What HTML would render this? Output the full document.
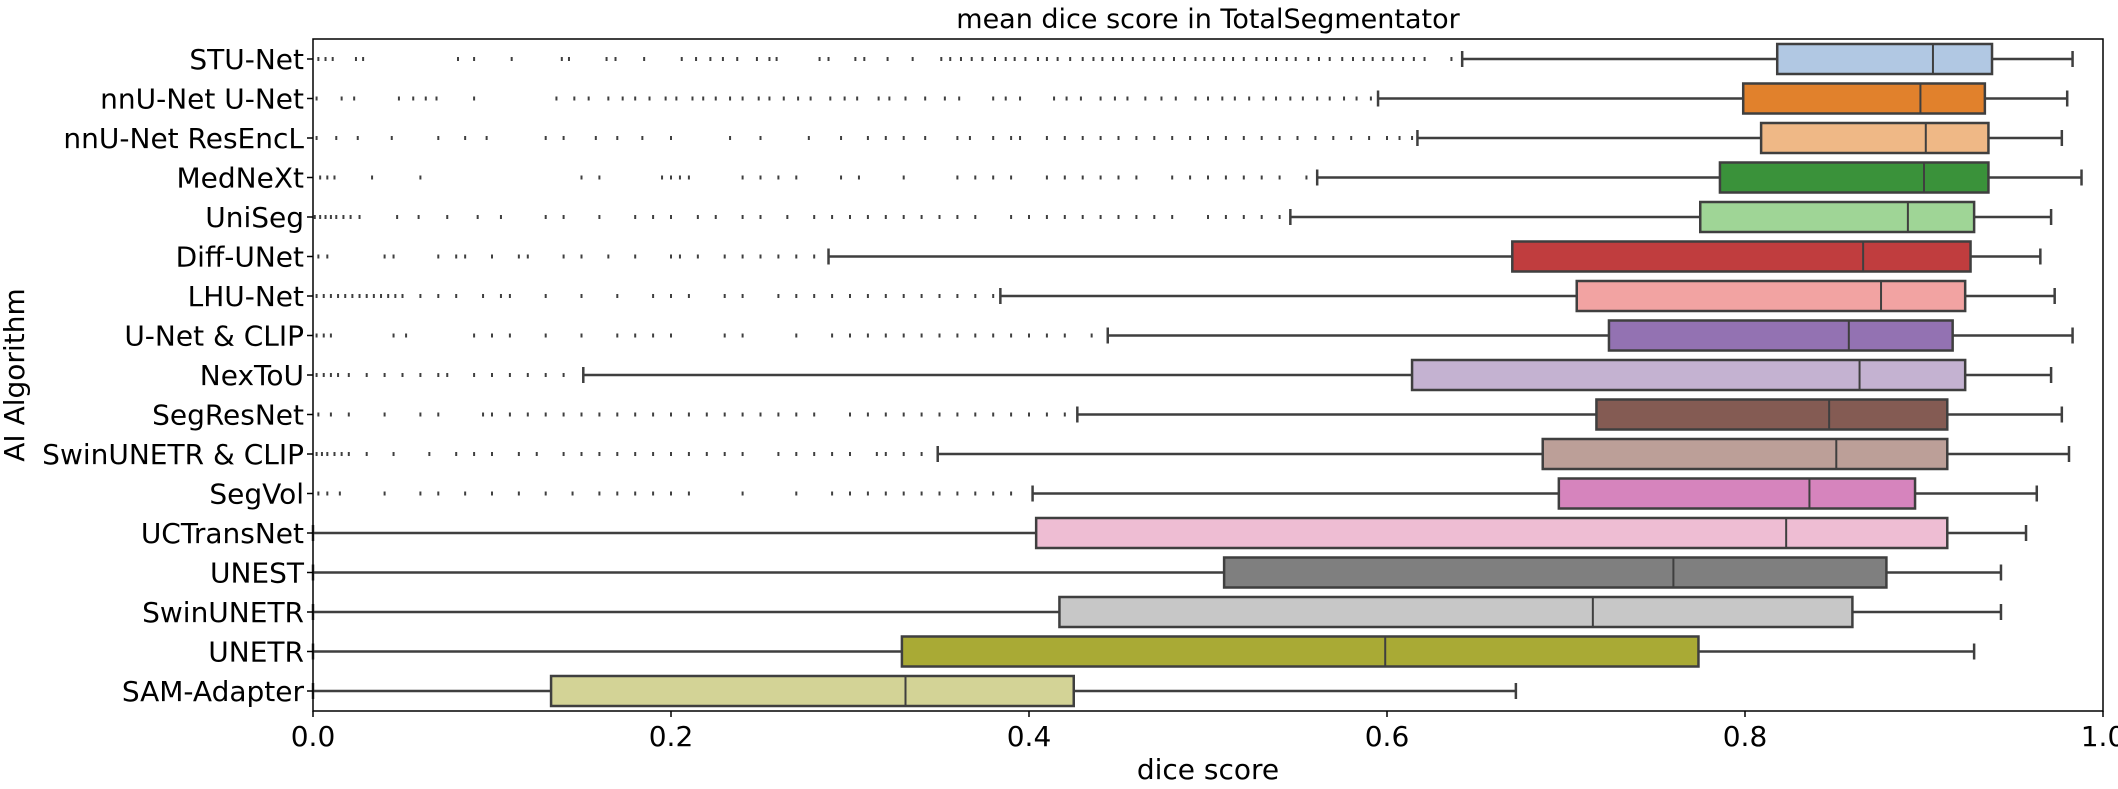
<!DOCTYPE html>
<html><head><meta charset="utf-8"><style>
body{margin:0;background:#fff;}
svg{display:block;font-family:"DejaVu Sans","Liberation Sans",sans-serif;}
</style></head><body>
<svg id="chart" width="2118" height="789" viewBox="0 0 2118 789" xmlns="http://www.w3.org/2000/svg">
<text x="1208" y="28" font-size="27" text-anchor="middle" fill="#000">mean dice score in TotalSegmentator</text>
<text x="1208" y="779" font-size="28" text-anchor="middle" fill="#000">dice score</text>
<text transform="translate(24,375) rotate(-90)" font-size="28" text-anchor="middle" fill="#000">AI Algorithm</text>
<g id="plot"></g>
</svg>
<script>
const categories=["STU-Net","nnU-Net U-Net","nnU-Net ResEncL","MedNeXt","UniSeg","Diff-UNet","LHU-Net","U-Net & CLIP","NexToU","SegResNet","SwinUNETR & CLIP","SegVol","UCTransNet","UNEST","SwinUNETR","UNETR","SAM-Adapter"];
const whiskerLow=[0.642,0.595,0.617,0.561,0.546,0.288,0.384,0.444,0.151,0.427,0.349,0.402,0.0,0.0,0.0,0.0,0.0];
const q1=[0.818,0.799,0.809,0.786,0.775,0.670,0.706,0.724,0.614,0.717,0.687,0.696,0.404,0.509,0.417,0.329,0.133];
const medians=[0.905,0.898,0.901,0.900,0.891,0.866,0.876,0.858,0.864,0.847,0.851,0.836,0.823,0.760,0.715,0.599,0.331];
const q3=[0.938,0.934,0.936,0.936,0.928,0.926,0.923,0.916,0.923,0.913,0.913,0.895,0.913,0.879,0.860,0.774,0.425];
const whiskerHigh=[0.983,0.980,0.977,0.988,0.971,0.965,0.973,0.983,0.971,0.977,0.981,0.963,0.957,0.943,0.943,0.928,0.672];
const colors=["#b1c8e3","#e1812c","#efb886","#3a923a","#9fd596","#c03d3e","#f2a3a2","#9372b2","#c4b2d1","#845b53","#bc9f98","#d684bd","#eebdd3","#7f7f7f","#c7c7c7","#a9aa35","#d3d396"];
const xTicks=[0,0.2,0.4,0.6,0.8,1.0];
const xTickLabels=["0.0","0.2","0.4","0.6","0.8","1.0"];
const outliers=[
[0.003,0.007,0.011,0.024,0.028,0.081,0.09,0.111,0.139,0.143,0.164,0.169,0.185,0.206,0.214,0.222,0.229,0.237,0.248,0.255,0.259,0.283,0.288,0.303,0.308,0.321,0.335,0.351,0.356,0.362,0.368,0.374,0.381,0.387,0.392,0.398,0.405,0.41,0.416,0.423,0.43,0.436,0.441,0.447,0.452,0.458,0.464,0.47,0.475,0.481,0.487,0.493,0.498,0.503,0.509,0.514,0.52,0.527,0.533,0.538,0.544,0.549,0.556,0.562,0.568,0.575,0.581,0.587,0.592,0.598,0.603,0.609,0.615,0.621,0.636],
[0.002,0.016,0.023,0.048,0.056,0.063,0.069,0.09,0.136,0.146,0.154,0.165,0.173,0.18,0.188,0.197,0.203,0.212,0.218,0.225,0.233,0.24,0.249,0.255,0.263,0.271,0.278,0.289,0.297,0.304,0.316,0.322,0.331,0.342,0.353,0.361,0.38,0.387,0.395,0.414,0.421,0.429,0.44,0.448,0.455,0.465,0.474,0.482,0.493,0.5,0.508,0.515,0.523,0.531,0.538,0.546,0.553,0.561,0.568,0.576,0.583,0.591],
[0.002,0.013,0.025,0.044,0.07,0.085,0.097,0.13,0.14,0.158,0.17,0.184,0.2,0.233,0.25,0.277,0.295,0.31,0.32,0.33,0.342,0.36,0.367,0.38,0.39,0.395,0.41,0.42,0.43,0.44,0.45,0.46,0.47,0.48,0.49,0.5,0.51,0.52,0.53,0.54,0.55,0.56,0.57,0.58,0.59,0.6,0.607,0.614],
[0.004,0.008,0.012,0.033,0.06,0.15,0.16,0.195,0.2,0.205,0.21,0.24,0.25,0.26,0.27,0.295,0.305,0.33,0.36,0.37,0.38,0.39,0.41,0.42,0.43,0.44,0.45,0.46,0.48,0.49,0.5,0.51,0.52,0.53,0.54,0.555],
[0.001,0.004,0.007,0.01,0.013,0.017,0.021,0.026,0.047,0.059,0.075,0.092,0.105,0.13,0.14,0.16,0.18,0.19,0.2,0.215,0.225,0.24,0.25,0.265,0.28,0.29,0.3,0.31,0.32,0.33,0.34,0.35,0.36,0.37,0.39,0.4,0.41,0.42,0.43,0.44,0.45,0.46,0.47,0.48,0.5,0.51,0.52,0.53,0.54],
[0.003,0.008,0.04,0.045,0.07,0.08,0.085,0.1,0.115,0.12,0.14,0.15,0.165,0.18,0.2,0.205,0.215,0.23,0.24,0.25,0.26,0.27,0.28],
[0.002,0.006,0.01,0.014,0.018,0.022,0.026,0.03,0.034,0.038,0.042,0.046,0.05,0.06,0.07,0.08,0.095,0.105,0.11,0.13,0.15,0.17,0.19,0.2,0.21,0.23,0.24,0.26,0.27,0.28,0.29,0.3,0.31,0.32,0.33,0.34,0.35,0.36,0.37,0.38],
[0.002,0.006,0.01,0.045,0.052,0.09,0.1,0.11,0.13,0.15,0.17,0.18,0.19,0.2,0.23,0.24,0.27,0.29,0.3,0.31,0.32,0.33,0.34,0.35,0.36,0.37,0.38,0.39,0.4,0.41,0.42,0.435],
[0.002,0.006,0.01,0.014,0.02,0.03,0.04,0.05,0.06,0.07,0.075,0.09,0.1,0.11,0.12,0.13,0.14],
[0.003,0.01,0.02,0.04,0.06,0.07,0.095,0.1,0.11,0.12,0.13,0.14,0.15,0.16,0.17,0.18,0.19,0.2,0.21,0.22,0.23,0.24,0.25,0.26,0.27,0.28,0.3,0.31,0.32,0.33,0.34,0.35,0.36,0.37,0.38,0.39,0.4,0.41,0.42],
[0.002,0.005,0.008,0.012,0.016,0.02,0.03,0.045,0.065,0.08,0.09,0.1,0.115,0.125,0.14,0.15,0.16,0.17,0.18,0.19,0.2,0.21,0.22,0.23,0.24,0.26,0.27,0.28,0.29,0.3,0.315,0.32,0.33,0.34],
[0.003,0.008,0.015,0.04,0.06,0.07,0.085,0.1,0.115,0.13,0.145,0.16,0.17,0.18,0.19,0.2,0.21,0.24,0.27,0.29,0.3,0.31,0.32,0.33,0.34,0.35,0.36,0.37,0.38,0.39],
[],[],[],[],[]
];

const NS="http://www.w3.org/2000/svg";
const L=313,R=2103,T=39,B=711,Y0=59,STEP=39.5,BOXH=30,CAP=16;
const xs=v=>L+v*(R-L);
const ys=i=>Y0+i*STEP;
const g=document.getElementById('plot');
function mk(tag,attrs,parent){const e=document.createElementNS(NS,tag);for(const k in attrs)e.setAttribute(k,attrs[k]);(parent||g).appendChild(e);return e;}
const LC="#3f3f3f";
categories.forEach((c,i)=>{
  const grp=mk('g',{});
  
  
  const y=ys(i);
  const w1=mk('line',{x1:xs(whiskerLow[i]),x2:xs(q1[i]),y1:y,y2:y,stroke:LC,'stroke-width':2.5},grp);
  
  
  const w2=mk('line',{x1:xs(q3[i]),x2:xs(whiskerHigh[i]),y1:y,y2:y,stroke:LC,'stroke-width':2.5},grp);
  
  
  [whiskerLow[i],whiskerHigh[i]].forEach(v=>{
    const cp=mk('line',{x1:xs(v),x2:xs(v),y1:y-CAP/2,y2:y+CAP/2,stroke:LC,'stroke-width':2.5},grp);
    
    
  });
  const bx=mk('rect',{x:xs(q1[i]),y:y-BOXH/2,width:xs(q3[i])-xs(q1[i]),height:BOXH,fill:colors[i],stroke:LC,'stroke-width':2.5},grp);
  
  
  const md=mk('line',{x1:xs(medians[i]),x2:xs(medians[i]),y1:y-BOXH/2,y2:y+BOXH/2,stroke:LC,'stroke-width':2},grp);
  
  
  outliers[i].forEach(v=>{
    const d=mk('rect',{x:xs(v)-1,y:y-2,width:2,height:4,fill:LC},grp);
    
    
  });
  const tk=mk('line',{x1:L-6,x2:L,y1:y,y2:y,stroke:"#000",'stroke-width':1.5});
  
  
  const lb=mk('text',{x:L-9,y:y+10,'font-size':28,'text-anchor':'end',fill:'#000'});
  lb.textContent=c;
  
  
});
xTicks.forEach((v,i)=>{
  const tk=mk('line',{x1:xs(v),x2:xs(v),y1:B,y2:B+6,stroke:"#000",'stroke-width':1.5});
  
  
  const lb=mk('text',{x:xs(v),y:B+35,'font-size':28,'text-anchor':'middle',fill:'#000'});
  lb.textContent=xTickLabels[i];
  
  
});
const fr=mk('rect',{x:L,y:T,width:R-L,height:B-T,fill:'none',stroke:'#000','stroke-width':1.5});


</script>
</body></html>
